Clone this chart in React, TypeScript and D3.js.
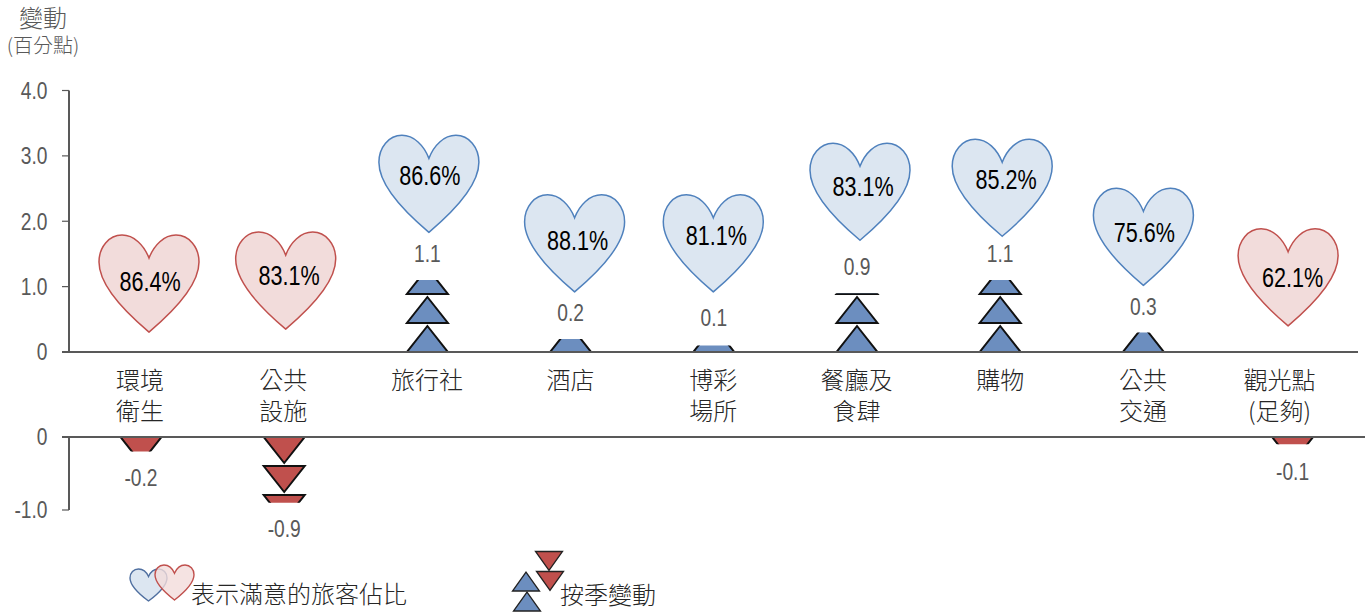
import React from "react";
import * as d3 from "d3";

const categories = [["環境", "衛生"], ["公共", "設施"], ["旅行社"], ["酒店"], ["博彩", "場所"], ["餐廳及", "食肆"], ["購物"], ["公共", "交通"], ["觀光點", "(足夠)"]];
const changeValues = [-0.2, -0.9, 1.1, 0.2, 0.1, 0.9, 1.1, 0.3, -0.1];
const satisfied = ["86.4%", "83.1%", "86.6%", "88.1%", "81.1%", "83.1%", "85.2%", "75.6%", "62.1%"];
const heartHeights = [0.305, 0.35, 1.83, 0.92, 0.92, 1.71, 1.77, 1.02, 0.4];
const upTicks = [0, 1, 2, 3, 4];
const downTicks = [0, -1];

// layout nudges, px
const barNudge = [0, 0, 0, 0, 0, 0, 0, 0, 6];
const heartNudge = [8, 1.5, 1.5, 4, -0.5, 3, 2, 0, 1.5];
const pctNudgeX = [9, 5, 2.5, 7, 2.5, 6, 6, 1, 6];
const pctY = [282, 276, 175.5, 241, 236, 187, 180, 233, 278];
const labelNudge = [-1, -1, -0.5, 0, -0.5, -0.5, 0, -0.5, -7];
const valueLift = [26, 26, 26, 26, 27.5, 26, 26, 26, 27];

const FONT = "'Liberation Sans', Arial, sans-serif";
const CJK = "'Noto Sans CJK TC', sans-serif";
const BLUE = "#6C8EBF", RED = "#C0504D", AXIS = "#595959";

const yUp = d3.scaleLinear().domain([0, 4]).range([352, 90.5]);
const yDown = d3.scaleLinear().domain([-1, 0]).range([510, 437]);
const x = d3.scalePoint<number>().domain(d3.range(categories.length)).range([141, 1286.6]);

function heartPath(cx: number, tip: number, w = 100, h = 97) {
  const sx = w / 100, sy = h / 97;
  const P = (a: number, b: number): [number, number] => [cx + a * sx, tip - h + b * sy];
  const p = d3.path();
  p.moveTo(...P(0, 23));
  const c = (a: number, b: number, c1: number, d: number, e: number, f: number) =>
    p.bezierCurveTo(...P(a, b), ...P(c1, d), ...P(e, f));
  c(-5, 10, -15, 0, -27, 0);
  c(-40, 0, -50, 12, -50, 27);
  c(-50, 50, -25, 76, 0, 97);
  c(25, 76, 50, 50, 50, 27);
  c(50, 12, 40, 0, 27, 0);
  c(15, 0, 5, 10, 0, 23);
  p.closePath();
  return p.toString();
}

function triPath(cx: number, base: number, dir: number, hw = 20.5, h = 26) {
  const line = d3.line();
  return line([[cx - hw, base], [cx + hw, base], [cx, base - dir * h]]) + "Z";
}

const Squeezed = ({ x: tx, y, size, fill, children, anchor = "middle", sx = 0.8 }: any) => (
  <text transform={`translate(${tx},${y}) scale(${sx},1)`} fontFamily={FONT} fontSize={size} fill={fill}
    textAnchor={anchor} dominantBaseline="central">{children}</text>
);

function Bar({ i }: { i: number }) {
  const v = changeValues[i];
  const cx = x(i)! + barNudge[i];
  const up = v > 0;
  const base = up ? yUp(0) : yDown(0);
  const end = up ? yUp(v) : yDown(v);
  const dir = up ? 1 : -1;
  const period = 29;
  const n = Math.ceil(Math.abs(end - base) / period) + 1;
  const id = `clip-${i}`;
  return (
    <g>
      <clipPath id={id}>
        <rect x={cx - 24} y={Math.min(base, end)} width={48} height={Math.abs(end - base)} />
      </clipPath>
      <g clipPath={`url(#${id})`}>
        {d3.range(n).map((k) => (
          <path key={k} d={triPath(cx, base - dir * period * k, dir)} fill={up ? BLUE : RED}
            stroke="#111" strokeWidth={2} />
        ))}
      </g>
      <Squeezed x={cx} y={end - dir * valueLift[i]} size={24} fill={AXIS}>{String(v)}</Squeezed>
    </g>
  );
}

export default function App() {
  return (
    <svg width={1369} height={614} style={{ position: "absolute", left: 0, top: 0, background: "#fff" }}>
      <text x={43} y={16} textAnchor="middle" dominantBaseline="central" fontFamily={CJK} fontWeight={300} fontSize={24} fill={AXIS}>變動</text>
      <text x={43} y={44.5} textAnchor="middle" dominantBaseline="central" fontFamily={CJK} fontWeight={300} fontSize={20} fill={AXIS}>(百分點)</text>

      {categories.map((_, i) => {
        const hx = x(i)! + heartNudge[i];
        const isUp = changeValues[i] > 0;
        return (
          <path key={i} d={heartPath(hx, yUp(heartHeights[i]))}
            fill={isUp ? "#DCE6F1" : "#F2DCDB"} stroke={isUp ? "#4F81BD" : "#C0504D"} strokeWidth={1.5} />
        );
      })}

      {categories.map((_, i) => <Bar key={i} i={i} />)}

      <g stroke={AXIS} strokeWidth={2} fill="none">
        <line x1={69} x2={69} y1={yUp(4)} y2={yUp(0)} />
        <line x1={62} x2={1358} y1={yUp(0)} y2={yUp(0)} />
        <line x1={69} x2={69} y1={yDown(0)} y2={yDown(-1)} />
        <line x1={62} x2={1365} y1={yDown(0)} y2={yDown(0)} />
      </g>
      <g stroke={AXIS} strokeWidth={1.2}>
        {upTicks.map((t) => <line key={t} x1={62} x2={69} y1={yUp(t)} y2={yUp(t)} />)}
        {downTicks.map((t) => <line key={t} x1={62} x2={69} y1={yDown(t)} y2={yDown(t)} />)}
      </g>
      {upTicks.map((t) => (
        <Squeezed key={t} x={47.5} y={yUp(t)} size={24} fill={AXIS} anchor="end">{t === 0 ? "0" : t.toFixed(1)}</Squeezed>
      ))}
      {downTicks.map((t) => (
        <Squeezed key={t} x={47.5} y={yDown(t)} size={24} fill={AXIS} anchor="end">{t === 0 ? "0" : t.toFixed(1)}</Squeezed>
      ))}

      {satisfied.map((s, i) => (
        <Squeezed key={i} x={x(i)! + pctNudgeX[i]} y={pctY[i]} size={27} fill="#000">{s}</Squeezed>
      ))}

      {categories.map((lines, i) => (
        <text key={i} textAnchor="middle" fontFamily={CJK} fontWeight={300} fontSize={24} fill="#262626">
          {lines.map((l, j) => (
            <tspan key={j} x={x(i)! + labelNudge[i]} y={389 + 31 * j}>{l}</tspan>
          ))}
        </text>
      ))}

      {/* legend */}
      <path d={heartPath(148.5, 601, 37, 32)} fill="#DCE6F1" stroke="#4F6FA0" strokeWidth={1.4} />
      <path d={heartPath(174.5, 600, 39, 35)} fill="#F2DCDB" fillOpacity={0.8} stroke="#C0504D" strokeWidth={1.4} />
      <text x={191} y={603} fontFamily={CJK} fontWeight={300} fontSize={24} fill="#262626">表示滿意的旅客佔比</text>
      <g stroke="#222" strokeWidth={1.3}>
        <path d={triPath(549, 551.5, -1, 13.5, 19)} fill={RED} />
        <path d={triPath(550, 571.5, -1, 13.5, 19)} fill={RED} />
        <path d={triPath(526, 591, 1, 13.5, 19)} fill={BLUE} />
        <path d={triPath(527, 611, 1, 13.5, 19)} fill={BLUE} />
      </g>
      <text x={560} y={604} fontFamily={CJK} fontWeight={300} fontSize={24} fill="#262626">按季變動</text>
    </svg>
  );
}
